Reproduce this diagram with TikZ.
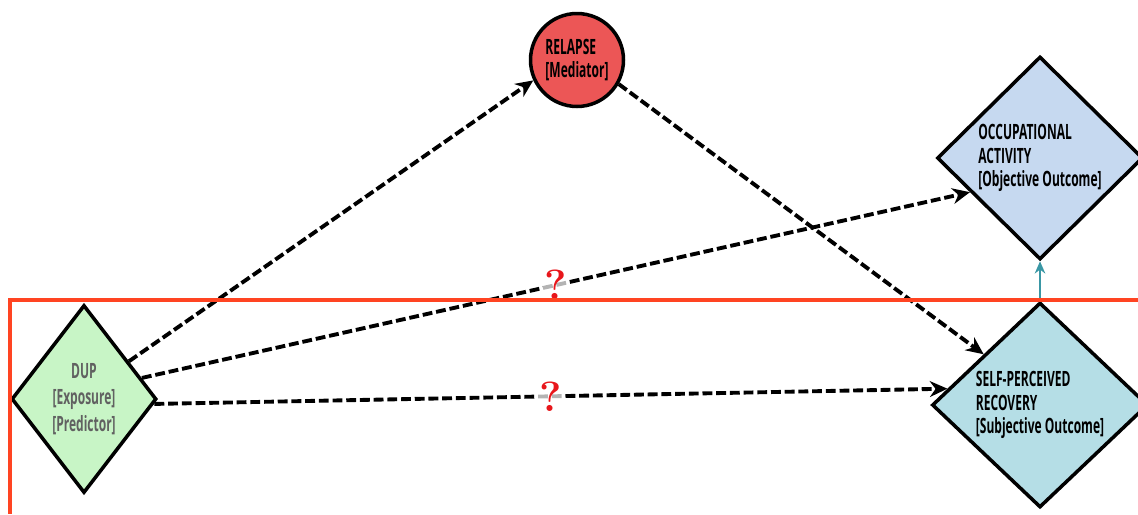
\documentclass[tikz,border=0pt]{standalone}
\usepackage{fontspec}
\newfontfamily\labelfont[FakeStretch=0.57]{Open Sans}
\usetikzlibrary{arrows.meta,shapes.geometric}
\definecolor{dupgreen}{HTML}{C8F5C6}
\definecolor{relred}{HTML}{EC5656}
\definecolor{occblue}{HTML}{C6D9F0}
\definecolor{selfteal}{HTML}{B5DEE6}
\definecolor{frame}{HTML}{FF4422}
\definecolor{linkteal}{HTML}{3A97A5}
\definecolor{qred}{HTML}{E8161B}
\begin{document}
\begin{tikzpicture}
        [
            x = 0.02cm, y = -0.02cm,
            > = {Stealth[length=10pt,width=9pt]},
            var/.style = {
                draw, line width=2pt, inner sep=0pt, align=left,
                font=\labelfont\bfseries\fontsize{12}{13.2}\selectfont},
            dia/.style = {var, diamond},
            link/.style = {->, line width=2.2pt, dash pattern=on 5.6pt off 2.2pt},
            qmark/.style = {fill=white, fill opacity=0.7, text opacity=1, inner sep=1pt,
                text=qred, font=\bfseries\fontsize{24}{24}\selectfont}
        ]
        \useasboundingbox (0,0) rectangle (1138,514);
        \node [dia, fill=dupgreen, align=center, text=black!62,
            minimum width=2.9cm, minimum height=3.76cm,
            font=\labelfont\bfseries\fontsize{12}{15}\selectfont] (DUP) at (84,399)
            {DUP\\{[Exposure]}\\{[Predictor]}};
        \node [var, circle, fill=relred, minimum size=1.86cm] (Relapse) at (577,60)
            {RELAPSE\\{[Mediator]}};
        \node [dia, fill=occblue, minimum width=4.12cm, minimum height=4.06cm] (Occ) at (1040,158)
            {OCCUPATIONAL\\ACTIVITY\\{[Objective Outcome]}};
        \node [dia, fill=selfteal, minimum width=4.32cm, minimum height=4.1cm] (Self) at (1040,405)
            {SELF-PERCEIVED\\RECOVERY\\{[Subjective Outcome]}};
        \draw [link] (DUP.40) -- (Relapse.205);
        \draw [link] (Relapse.-30) -- (Self.138);
        \draw [link] (DUP.20) -- node [qmark, pos=0.5] (q1) {?} (Occ.206);
        \draw [link] (DUP.-4) -- node [qmark, pos=0.5] (q2) {?} (Self.170);
        \draw [{Bar[width=7pt]}-{Stealth[length=7pt,width=6pt]}, linkteal, line width=1.6pt]
            (Self.north) -- (Occ.south);
        \draw [frame, line width=2.2pt] (1138,300) -- (10,300) -- (10,514);
    \end{tikzpicture}
\end{document}
